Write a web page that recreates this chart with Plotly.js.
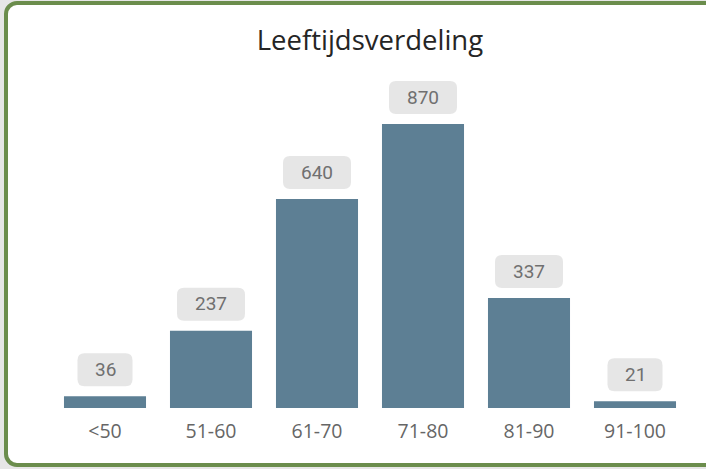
<!DOCTYPE html>
<html>
<head>
<meta charset="utf-8">
<script src="https://cdn.plot.ly/plotly-3.0.1.min.js"></script>
<style>
    html, body { margin: 0; padding: 0; width: 706px; height: 469px; overflow: hidden; background: #e6e6e6; }
    #kader {
        position: absolute; left: 4px; top: 1px; width: 740px; height: 466px;
        box-sizing: border-box; border: 4px solid #6b8d4c; border-radius: 13px; background: #ffffff;
    }
    #grafiek { position: absolute; left: 0; top: 0; width: 706px; height: 469px; }
</style>
</head>
<body>
<div id="kader"></div>
<div id="grafiek"></div>
<script>
        // Gegevens
        const categorieen = ['<50', '51-60', '61-70', '71-80', '81-90', '91-100'];
        const aantallen = [36, 237, 640, 870, 337, 21];
        const titel = 'Leeftijdsverdeling';

        // Staven
        const trace = {
            x: categorieen,
            y: aantallen,
            type: 'bar',
            marker: { color: '#5d7f94' },
            hoverinfo: 'none'
        };

        // Labels met grijze afgeronde achtergrond
        const vormen = [];
        const labels = [];
        aantallen.forEach((waarde, i) => {
            const tekst = String(waarde);
            const w = tekst.length >= 3 ? 34 : 27.5;
            const y0 = 10, y1 = 43, r = 7;
            vormen.push({
                type: 'path',
                xref: 'x', yref: 'y',
                xsizemode: 'pixel', ysizemode: 'pixel',
                xanchor: i, yanchor: waarde,
                path: `M ${-w + r},${y0} L ${w - r},${y0} Q ${w},${y0} ${w},${y0 + r} L ${w},${y1 - r} Q ${w},${y1} ${w - r},${y1} ` +
                      `L ${-w + r},${y1} Q ${-w},${y1} ${-w},${y1 - r} L ${-w},${y0 + r} Q ${-w},${y0} ${-w + r},${y0} Z`,
                fillcolor: '#e6e6e6',
                line: { width: 0 },
                layer: 'below'
            });
            labels.push({
                x: i, y: waarde,
                xref: 'x', yref: 'y',
                text: tekst,
                showarrow: false,
                yanchor: 'middle',
                yshift: 27,
                font: { family: 'Roboto, DejaVu Sans', size: 19, color: '#707070' }
            });
        });

        const layout = {
            width: 706,
            height: 469,
            title: {
                text: titel,
                font: { family: 'Open Sans, Noto Sans', size: 27.5, color: '#252525' },
                x: 0.524, xanchor: 'center',
                yref: 'container', y: 1 - 40 / 469, yanchor: 'middle'
            },
            xaxis: {
                type: 'category',
                showgrid: false, zeroline: false, showline: false,
                ticks: '',
                ticklabelstandoff: 9,
                tickfont: { family: 'Open Sans, Noto Sans', size: 19.5, color: '#666666' }
            },
            yaxis: {
                range: [0, 1005],
                visible: false, fixedrange: true
            },
            bargap: 0.226,
            shapes: vormen,
            annotations: labels,
            showlegend: false,
            plot_bgcolor: 'rgba(0,0,0,0)',
            paper_bgcolor: 'rgba(0,0,0,0)',
            margin: { l: 52, r: 18, t: 80, b: 61, pad: 0 }
        };

        Plotly.newPlot('grafiek', [trace], layout, { displayModeBar: false, staticPlot: true });
</script>
</body>
</html>
